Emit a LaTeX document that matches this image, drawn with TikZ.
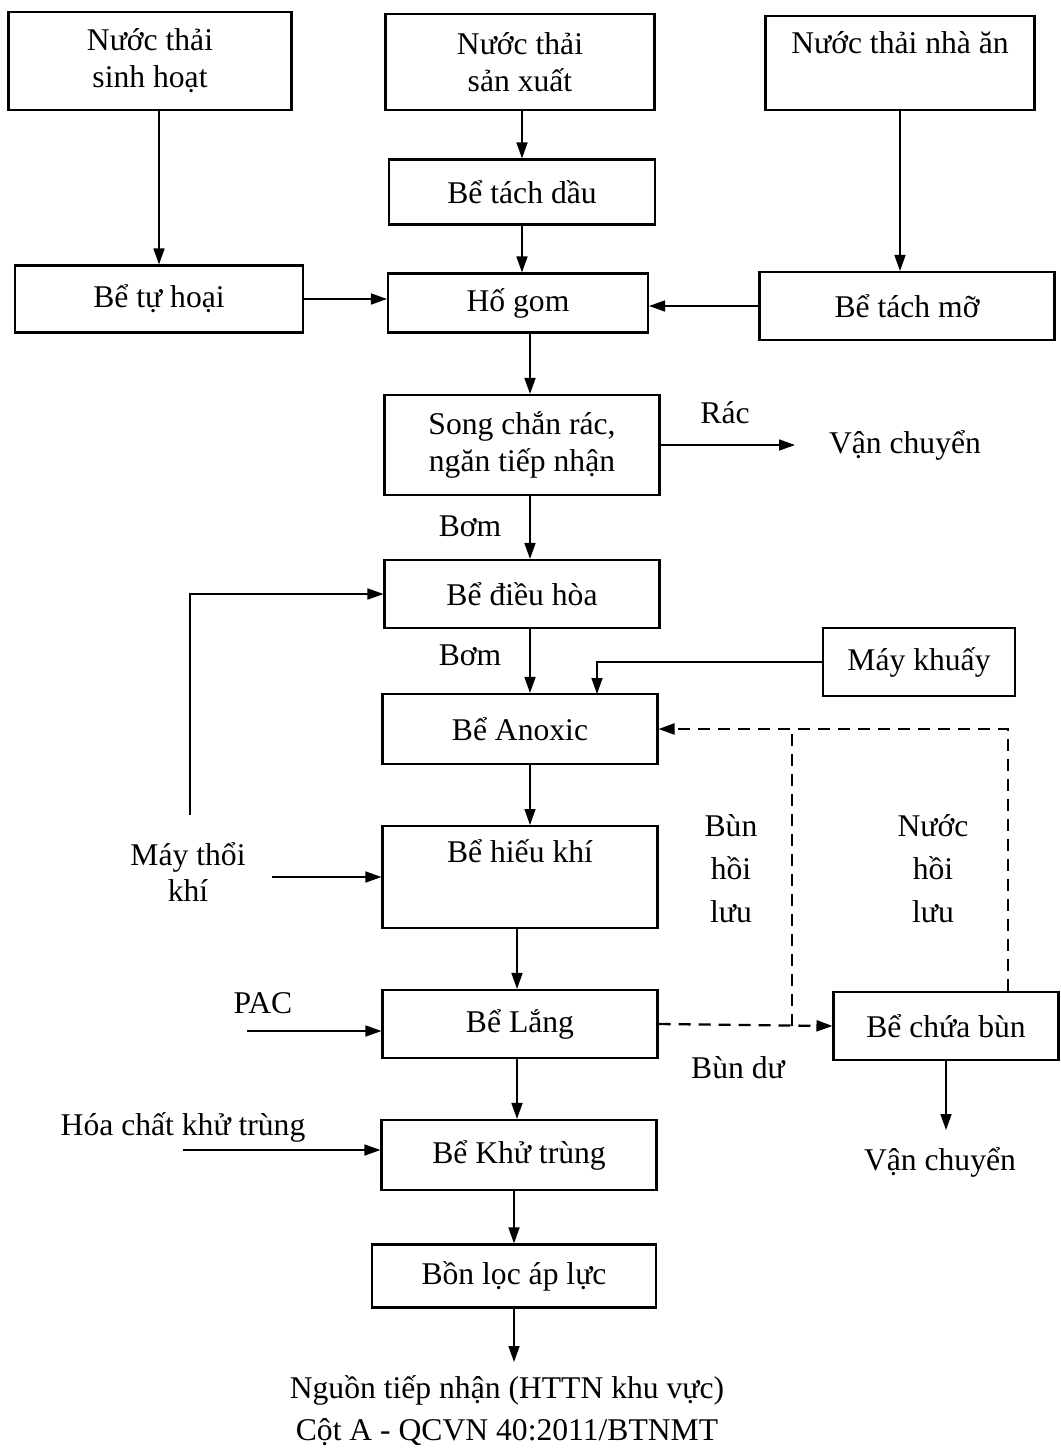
\documentclass[tikz,border=0pt]{standalone}
\usepackage{fontspec}
\setmainfont{Liberation Serif}
\usetikzlibrary{arrows.meta}
\tikzset{
  box/.style={draw, line width=1.2pt, minimum width=5.5cm, minimum height=1.36cm, align=center},
  txt/.style={align=center},
  flow/.style={line width=0.9pt, -{Triangle[length=0.32cm,width=0.22cm]}},
  back/.style={flow, line width=1.3pt, dash pattern=on 0.24cm off 0.16cm},
}
\begin{document}
\begin{tikzpicture}[x=0.02cm, y=-0.02cm, font=\fontsize{18}{21}\selectfont]
      \useasboundingbox (0,0) rectangle (1061,1451);
      % sources
      \node[box, minimum width=5.66cm, minimum height=1.96cm] (shoat) at (150,61) {Nước thải\\sinh hoạt};
      \node[box, minimum width=5.38cm, minimum height=1.92cm] (sxuat) at (520,62) {Nước thải\\sản xuất};
      \node[box, minimum width=5.38cm, text height=0.64cm, text depth=1.01cm, anchor=north] (nhaan) at (900,15) {Nước thải nhà ăn};
      % pre-treatment
      \node[box, minimum width=5.32cm, minimum height=1.3cm] (tdau) at (522,192) {Bể tách dầu};
      \node[box, minimum width=5.76cm, minimum height=1.34cm] (thoai) at (159,299) {Bể tự hoại};
      \node[box, minimum width=5.2cm, minimum height=1.18cm] (hgom) at (518,303) {Hố gom};
      \node[box, minimum width=5.9cm, minimum height=1.36cm] (tmo) at (907,306) {Bể tách mỡ};
      \node[box, minimum height=2cm] (song) at (522,445) {Song chắn rác,\\ngăn tiếp nhận};
      \node[txt] (rac) at (725,413) {Rác};
      \node[txt] (vc1) at (905,445) {Vận chuyển};
      \node[txt] (bom1) at (470,526) {Bơm};
      \node[box] (dhoa) at (522,594) {Bể điều hòa};
      \node[txt] (bom2) at (470,655) {Bơm};
      \node[box, minimum width=3.84cm] (mkhuay) at (919,662) {Máy khuấy};
      \node[box, minimum height=1.4cm] (anox) at (520,729) {Bể Anoxic};
      % biological
      \node[box, text height=0.62cm, text depth=1.18cm, anchor=north] (hkhi) at (520,825) {Bể hiếu khí};
      \node[txt] (mtk) at (188,872) {Máy thổi\\khí};
      \node[txt, font=\fontsize{18}{24.5}\selectfont] (bhl) at (731,869) {Bùn\\hồi\\lưu};
      \node[txt, font=\fontsize{18}{24.5}\selectfont] (nhl) at (933,869) {Nước\\hồi\\lưu};
      \node[box] (lang) at (520,1024) {Bể Lắng};
      \node[txt] (pac) at (263,1003) {PAC};
      \node[box, minimum width=4.5cm] (cbun) at (946,1026) {Bể chứa bùn};
      \node[txt] (bdu) at (738,1068) {Bùn dư};
      \node[txt] (vc2) at (940,1162) {Vận chuyển};
      \node[box, minimum height=1.4cm] (ktrung) at (519,1155) {Bể Khử trùng};
      \node[txt] (hckt) at (183,1127) {Hóa chất khử trùng};
      \node[box, minimum width=5.68cm, minimum height=1.26cm] (loc) at (514,1276) {Bồn lọc áp lực};
      \node[txt, font=\fontsize{18}{24}\selectfont] (nguon) at (507,1411) {Nguồn tiếp nhận (HTTN khu vực)\\Cột A - QCVN 40:2011/BTNMT};
      % free ends
      \coordinate (mtkup) at (190,815);
      \coordinate (mtkin) at (272,877);
      \coordinate (pacin) at (247,1031);
      \coordinate (hcin) at (183,1150);
      \coordinate (racout) at (795,445);
      \coordinate (bunout) at (946,1130);
      \coordinate (locout) at (514,1362);
      \coordinate (kin) at (597,694);
      \coordinate (r1) at (792,1026);
      \coordinate (r2) at (792,729);
      \coordinate (r3) at (1008,729);
      \begin{scope}[flow]
        \draw (shoat.south -| thoai.north) to (thoai.north);
        \draw (sxuat.south -| 522,0) to (tdau.north);
        \draw (nhaan.south) to (nhaan.south |- tmo.north);
        \draw (tdau.south) to (tdau.south |- hgom.north);
        \draw (thoai.east) to (hgom.west |- thoai.east);
        \draw (tmo.west) to (hgom.east |- tmo.west);
        \draw (hgom.south -| 530,0) to (song.north -| 530,0);
        \draw (song.east |- racout) to (racout);
        \draw (song.south -| 530,0) to (dhoa.north -| 530,0);
        \draw (dhoa.south -| 530,0) to (anox.north -| 530,0);
        \draw (mkhuay.west) -| (kin);
        \draw (mtkup) |- (dhoa.west);
        \draw (anox.south -| 530,0) to (hkhi.north -| 530,0);
        \draw (mtkin) to (hkhi.west |- mtkin);
        \draw (hkhi.south -| 517,0) to (lang.north -| 517,0);
        \draw (pacin) to (lang.west |- pacin);
        \draw (lang.south -| 517,0) to (ktrung.north -| 517,0);
        \draw (hcin) to (ktrung.west |- hcin);
        \draw (ktrung.south -| 514,0) to (loc.north -| 514,0);
        \draw (loc.south -| locout) to (locout);
        \draw (cbun.south) to (bunout);
      \end{scope}
      \begin{scope}[back]
        \draw (lang.east) to (cbun.west);
        \draw[-] (r1) to (r2);
        \draw (cbun.north -| r3) -- (r3) -- (anox.east);
      \end{scope}
    \end{tikzpicture}
\end{document}
